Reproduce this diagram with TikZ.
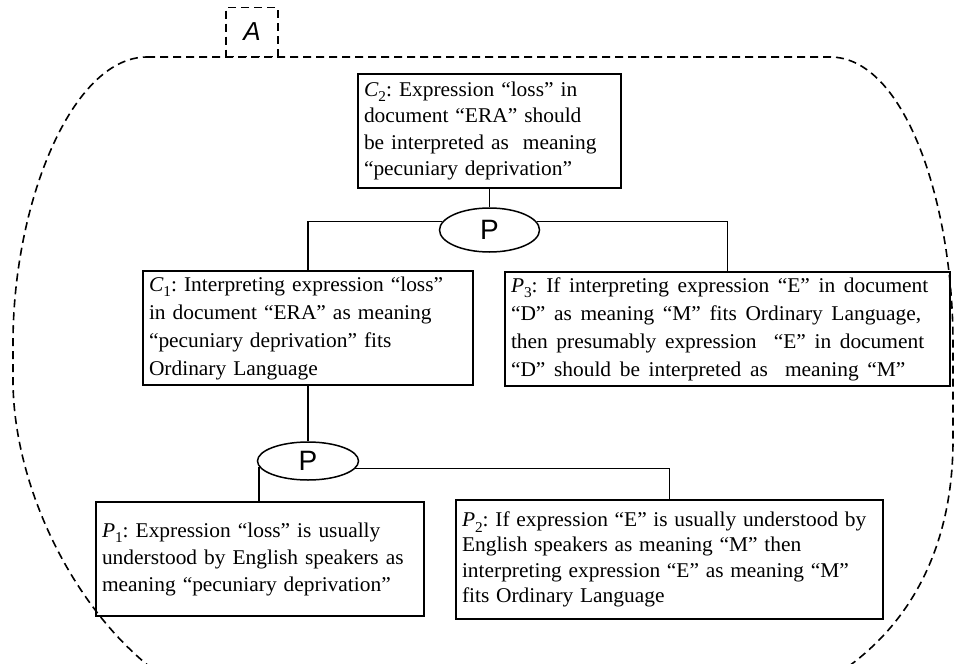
\documentclass[tikz,border=0pt]{standalone}
\usepackage{fontspec}
\setmainfont{Liberation Serif}[FakeStretch=1.02]
\newfontfamily\labelsans{Liberation Sans}
\usetikzlibrary{shapes.geometric}
\frenchspacing

% proposition label: italic letter with upright lowered index
\newcommand\proplabel[2]{\textit{#1}\raisebox{-0.27em}{\fontsize{15}{15}\selectfont #2}}

\tikzset{
  stmt/.style={draw, line width=1.5pt, rectangle, inner xsep=6pt, inner ysep=0pt,
    align=left, font=\fontsize{21}{#1}\selectfont},
  stmt/.default=27,
  schemenode/.style={draw, line width=1.5pt, ellipse, inner sep=0pt,
    font=\labelsans\fontsize{28}{28}\selectfont},
  link/.style={line width=1.5pt},
  region/.style={line width=1.6pt, dash pattern=on 8pt off 5pt},
}

\begin{document}
\begin{tikzpicture}[x=1pt, y=-1pt]
\useasboundingbox (0,0) rectangle (956,664);
\clip (0,0) rectangle (956,664);

% dashed region enclosing the argument
\draw[region] (147,57) -- (830,57)
  .. controls (905,57) and (953,203) .. (953,343) -- (953,440)
  .. controls (953,580) and (880,680) .. (740,716) -- (260,716)
  .. controls (120,700) and (13,520) .. (13,380) -- (13,343)
  .. controls (13,203) and (72,57) .. (147,57) -- cycle;

% region label
\node[draw, region, minimum width=52pt, minimum height=49pt, inner sep=0pt,
  font=\labelsans\itshape\fontsize{26}{26}\selectfont] (lblA) at (252,32) {A};

% statements
\node[stmt=26.5, text width=251pt, minimum height=114pt] (c2) at (489.5,131)
  {\mbox{\proplabel{C}{2}: Expression “loss” in}\\
   \mbox{document “ERA” should}\\
   \mbox{be interpreted as\ \ meaning}\\
   \mbox{“pecuniary deprivation”}};

\node[schemenode, minimum width=100pt, minimum height=44pt] (pa) at (489.5,230) {P};

\node[stmt=28, text width=318pt, minimum height=114pt] (c1) at (308,328)
  {\mbox{\proplabel{C}{1}: Interpreting expression “loss”}\\
   \mbox{in document “ERA” as meaning}\\
   \mbox{“pecuniary deprivation” fits}\\
   \mbox{Ordinary Language}};

\node[stmt=28, text width=433pt, minimum height=114pt] (p3) at (727.5,329)
  {\spaceskip=8.6pt
   \mbox{\proplabel{P}{3}: If interpreting expression “E” in document}\\
   \mbox{“D” as meaning “M” fits Ordinary Language,}\\
   \mbox{then presumably expression\ \ “E” in document}\\
   \mbox{“D” should be interpreted as\ \ meaning “M”}};

\node[schemenode, minimum width=101pt, minimum height=38pt] (pb) at (308,461) {P};

\node[stmt=27, text width=316pt, minimum height=114pt] (p1) at (260,559)
  {\mbox{\proplabel{P}{1}: Expression “loss” is usually}\\
   \mbox{understood by English speakers as}\\
   \mbox{meaning “pecuniary deprivation”}};

\node[stmt=25.5, text width=415pt, minimum height=119pt] (p2) at (669.5,559.5)
  {\spaceskip=6.7pt
   \mbox{\proplabel{P}{2}: If expression “E” is usually understood by}\\
   \mbox{English speakers as meaning “M” then}\\
   \mbox{interpreting expression “E” as meaning “M”}\\
   \mbox{fits Ordinary Language}};

% connectors
\draw[link] (c2.south) -- (pa.north);
\draw[link] (pa.170) -| (c1.north);
\draw[link] (pa.10) -| (p3.north);
\draw[link] (c1.south) -- (pb.north);
\draw[link] (pb.187) -- (pb.187 |- p1.north);
\draw[link] (pb.-9) -| (p2.north);
\end{tikzpicture}
\end{document}
